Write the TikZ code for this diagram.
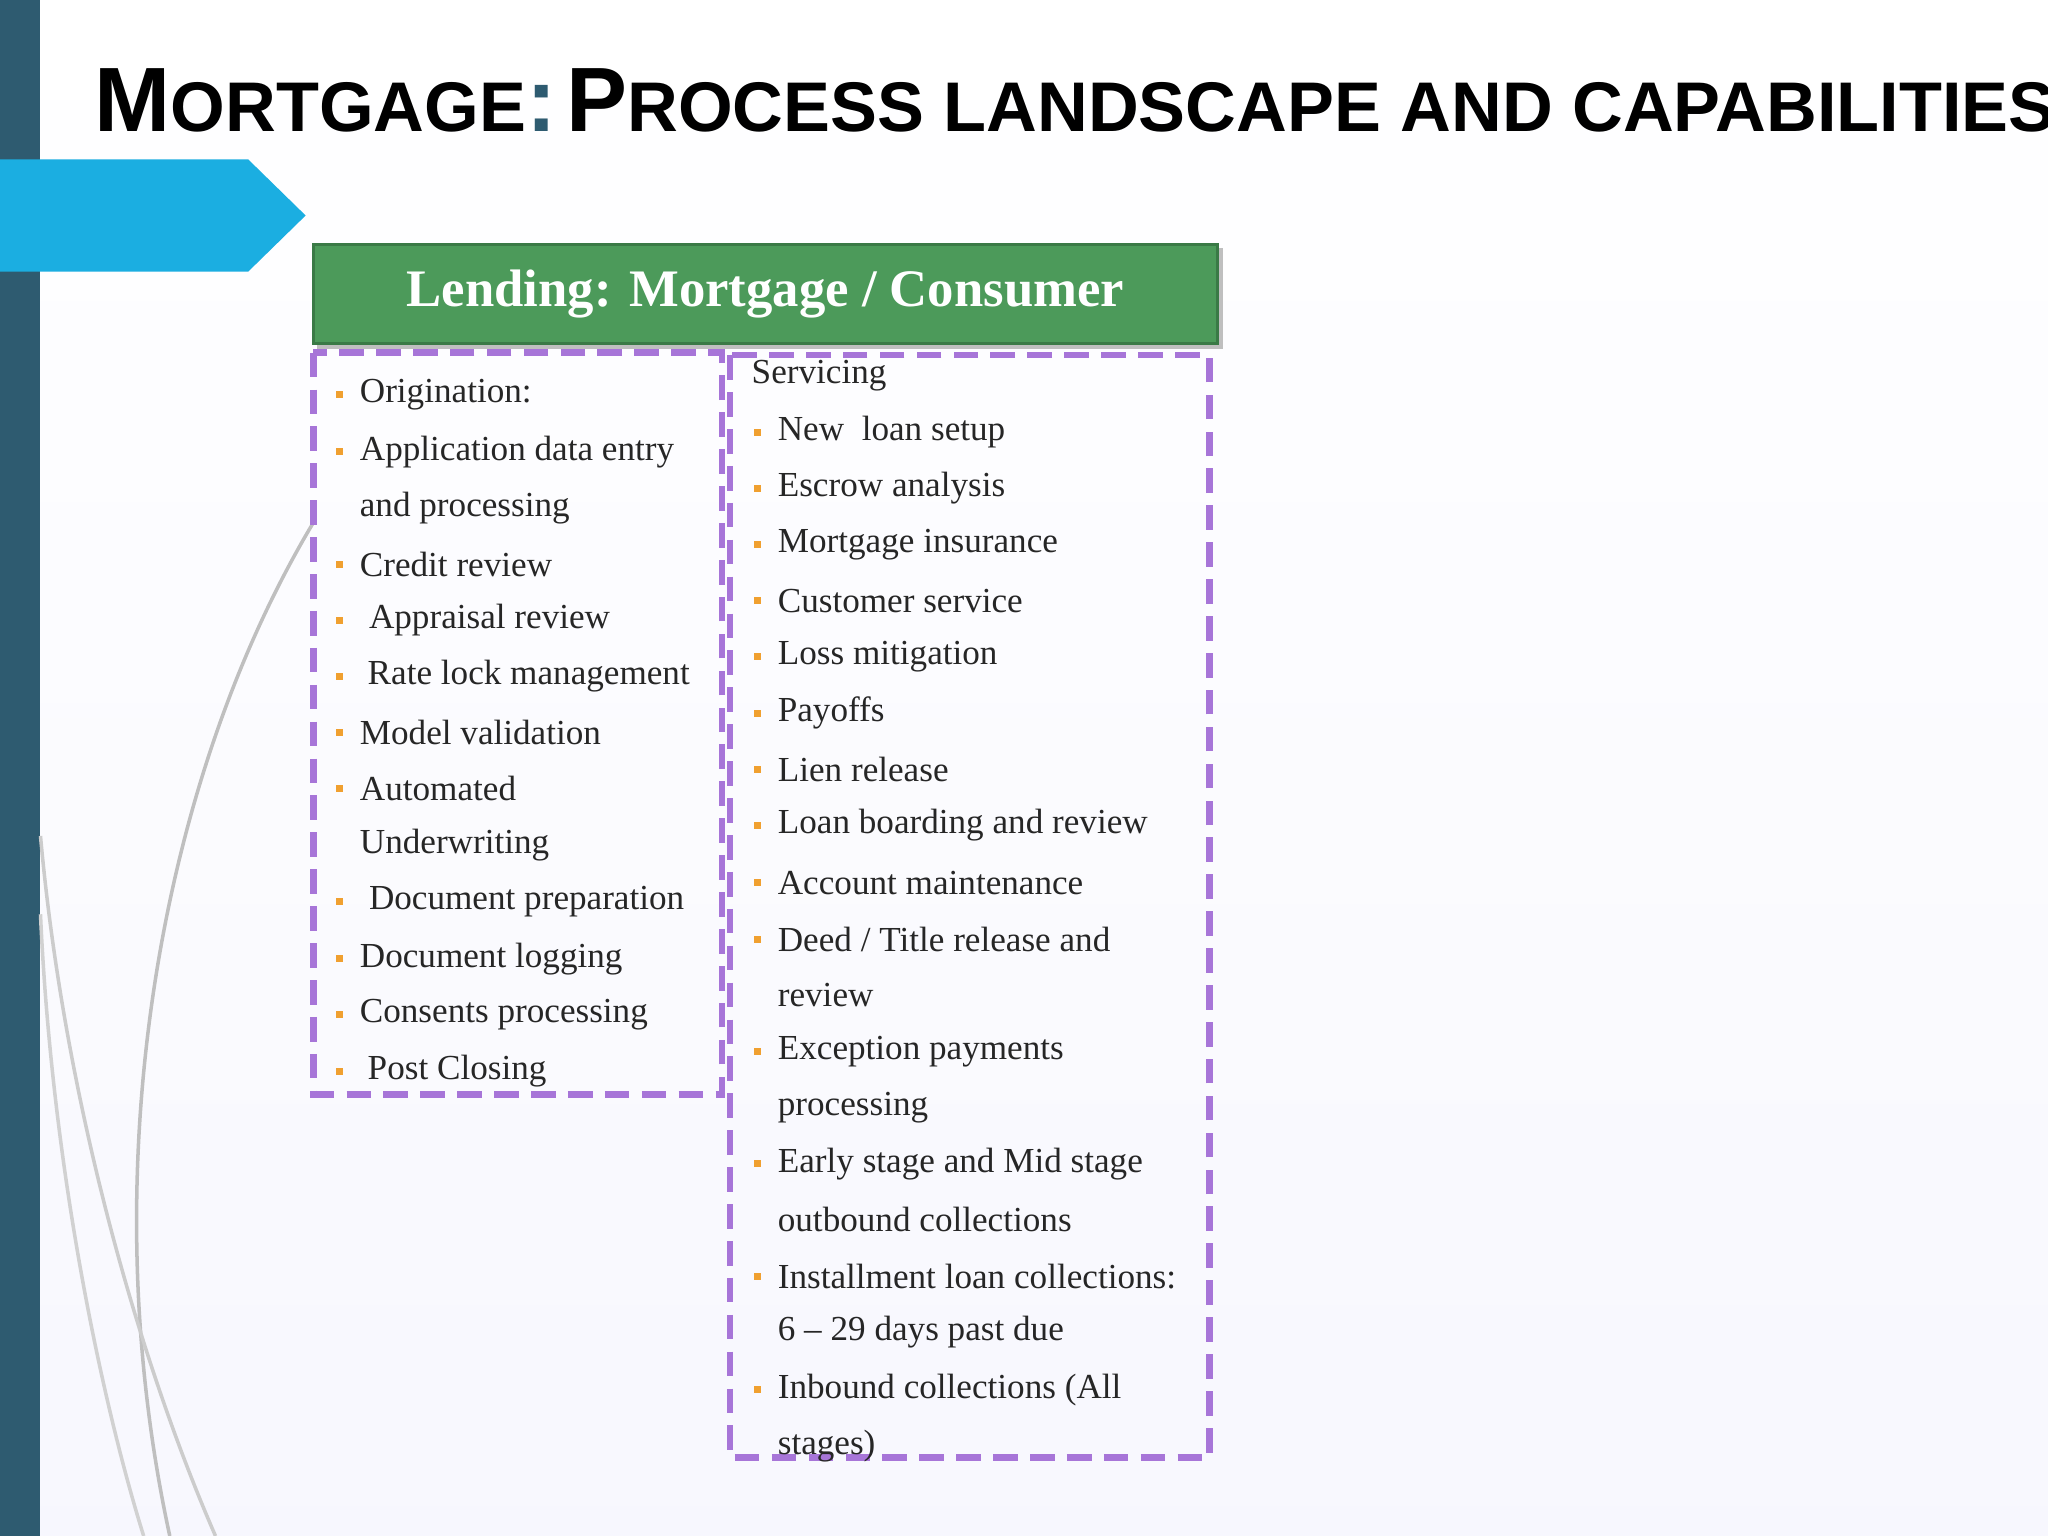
\documentclass[tikz,border=0pt]{standalone}
\usepackage{fontspec}
\setmainfont{Liberation Serif}
\newfontfamily\ttl{Liberation Sans}
\definecolor{bar}{HTML}{2E5B70}
\definecolor{arr}{HTML}{1BAEE1}
\definecolor{grn}{HTML}{4C9A5A}
\definecolor{grnd}{HTML}{3A7A46}
\definecolor{pur}{HTML}{A775D8}
\definecolor{bul}{HTML}{F0A030}
\begin{document}
\begin{tikzpicture}[x=0.013061cm,y=-0.013061cm,
  it/.style={anchor=west,inner sep=0pt,font=\fontsize{10pt}{12pt}\selectfont,text=black!85},
  bx/.style={draw=pur,line width=1.8pt,dash pattern=on 7pt off 3.5pt},
  b/.style={fill=bul,minimum size=0.07cm,inner sep=0pt}]
\useasboundingbox (0,0) rectangle (1568,1176);
\shade[top color=white,bottom color=black!14!blue!3!white] (0,0) rectangle (1568,1176);
\fill[bar] (0,0) rectangle (31,1176);
\draw[black!25,line width=1pt] (240,400) .. controls (120,600) and (70,900) .. (130,1176);
\draw[black!20,line width=1pt] (31,640) .. controls (50,850) and (110,1050) .. (165,1176);
\draw[black!18,line width=1pt] (31,700) .. controls (40,900) and (80,1080) .. (110,1176);
\fill[arr] (0,122) -- (190,122) -- (234,165) -- (190,208) -- (0,208) -- cycle;
\node[anchor=west,inner sep=0pt,font=\ttl\bfseries] (t) at (72,77) {{\fontsize{26pt}{26pt}\selectfont M}{\fontsize{20pt}{20pt}\selectfont ORTGAGE}{\fontsize{26pt}{26pt}\selectfont\color{bar}:} {\fontsize{26pt}{26pt}\selectfont P}{\fontsize{20pt}{20pt}\selectfont ROCESS LANDSCAPE AND CAPABILITIES}};
\fill[black!25] (243,190) rectangle (936,267);
\node[draw=grnd,line width=1pt,fill=grn,text=white,font=\fontsize{15pt}{18pt}\selectfont\bfseries,minimum width=9.04cm,minimum height=0.99cm] (h) at (586,225) {Lending: Mortgage / Consumer};
\draw[bx] (240,270) rectangle (553,838);
\draw[bx] (559,272) rectangle (926,1116);
\foreach \y/\t/\bb/\xx in {302/Origination:/1/275,346/Application data entry/1/275,389/and processing/0/275,432/Credit review/1/275,475/Appraisal review/1/282,518/Rate lock management/1/281,561/Model validation/1/275,604/Automated/1/275,647/Underwriting/0/275,690/Document preparation/1/282,734/Document logging/1/275,777/Consents processing/1/275,820/Post Closing/1/281}{
  \node[it] at (\xx,\y) {\t};
  \ifnum\bb=1 \node[b] at (260,\y) {};\fi}
\node[it] at (575,288) {Servicing};
\foreach \y/\t/\bb in {331/New\ \ loan setup/1,374/Escrow analysis/1,417/Mortgage insurance/1,460/Customer service/1,503/Loss mitigation/1,546/Payoffs/1,589/Lien release/1,632/Loan boarding and review/1,676/Account maintenance/1,719/{Deed / Title release and}/1,762/review/0,805/Exception payments/1,848/processing/0,891/Early stage and Mid stage/1,934/outbound collections/0,977/Installment loan collections:/1,1020/6 – 29 days past due/0,1064/Inbound collections (All/1,1107/stages)/0}{
  \node[it] at (595,\y) {\t};
  \ifnum\bb=1 \node[b] at (580,\y) {};\fi}
\end{tikzpicture}
\end{document}
